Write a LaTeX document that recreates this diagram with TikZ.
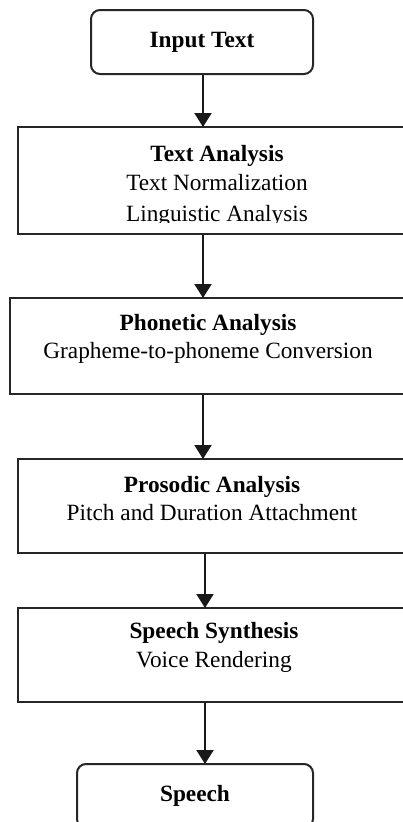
\documentclass[tikz,border=0pt]{standalone}
\usepackage{fontspec}
\setmainfont{Liberation Serif}
\usetikzlibrary{arrows.meta}
\begin{document}
\begin{tikzpicture}[x=1pt,y=-1pt,
  box/.style={draw=black!85, line width=2pt, fill=white, inner sep=0pt},
  rbox/.style={box, rounded corners=9pt},
  txt/.style={anchor=base, inner sep=0pt, font=\fontsize{23.3}{28}\selectfont},
  btxt/.style={txt, font=\fontsize{23.3}{28}\selectfont\bfseries},
  arr/.style={line width=2pt, draw=black!90, -{Triangle[width=17pt,length=14pt]}, shorten >=-1pt}]
\useasboundingbox (0,0) rectangle (403,822);
\begin{scope}
\clip (0,0) rectangle (403,822);
% boxes
\node[rbox, minimum width=222pt, minimum height=64pt] (in) at (202,42) {};
\node[box, minimum width=398pt, minimum height=107pt] (ta) at (217,180.5) {};
\node[box, minimum width=396pt, minimum height=96pt] (ph) at (208,346) {};
\node[box, minimum width=390pt, minimum height=94pt] (pr) at (213,506) {};
\node[box, minimum width=392pt, minimum height=94pt] (ss) at (214,655) {};
\node[rbox, minimum width=236pt, minimum height=64pt] (sp) at (195,796) {};
% texts
\node[btxt] (t1) at (202,47) {Input Text};
\node[btxt] (t2) at (217,161) {Text Analysis};
\node[txt] (t3) at (217,190) {Text Normalization};
\begin{scope}
\clip (ta.north west) rectangle (ta.east |- 0,222.5);
\node[txt] (t4) at (217,221) {Linguistic Analysis};
\end{scope}
\node[btxt] (t5) at (208,330) {Phonetic Analysis};
\node[txt] (t6) at (208,358) {Grapheme-to-phoneme Conversion};
\node[btxt] (t7) at (212,492) {Prosodic Analysis};
\node[txt] (t8) at (212,520) {Pitch and Duration Attachment};
\node[btxt] (t9) at (214,638) {Speech Synthesis};
\node[txt] (t10) at (214,667) {Voice Rendering};
\node[btxt] (t11) at (195,801) {Speech};
% connectors
\coordinate (c1) at (203,0);
\coordinate (c2) at (205,0);
\draw[arr] (c1 |- in.south) -- (c1 |- ta.north);
\draw[arr] (c1 |- ta.south) -- (c1 |- ph.north);
\draw[arr] (c1 |- ph.south) -- (c1 |- pr.north);
\draw[arr] (c2 |- pr.south) -- (c2 |- ss.north);
\draw[arr] (c2 |- ss.south) -- (c2 |- sp.north);
\end{scope}
\end{tikzpicture}
\end{document}
